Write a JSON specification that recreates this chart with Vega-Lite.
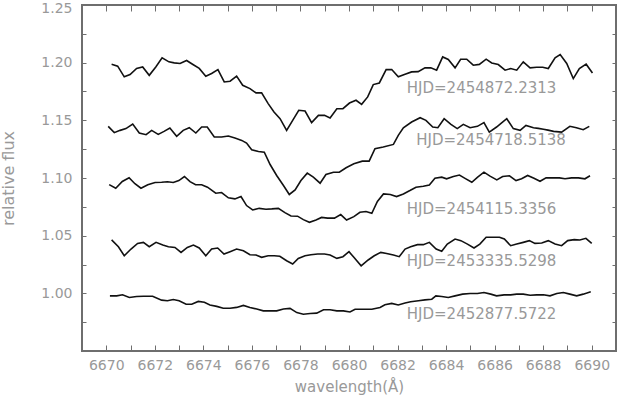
{
  "$schema": "https://vega.github.io/schema/vega-lite/v6.json",
  "width": 534,
  "height": 346,
  "autosize": {"type": "none"},
  "padding": {"left": 82, "top": 5, "right": 2, "bottom": 51},
  "background": "white",
  "config": {
    "view": {"stroke": "#6e6e6e", "strokeWidth": 2},
    "font": "DejaVu Sans"
  },
  "datasets": {
    "spec": [
      {"s":"a","w":6670.22,"f":1.1987},{"s":"a","w":6670.47,"f":1.197},{"s":"a","w":6670.74,"f":1.1877},{"s":"a","w":6670.98,"f":1.1897},{"s":"a","w":6671.25,"f":1.195},{"s":"a","w":6671.5,"f":1.1963},{"s":"a","w":6671.77,"f":1.189},{"s":"a","w":6672.04,"f":1.1963},{"s":"a","w":6672.3,"f":1.2042},{"s":"a","w":6672.58,"f":1.2007},{"s":"a","w":6672.8,"f":1.1998},{"s":"a","w":6673.04,"f":1.1993},{"s":"a","w":6673.31,"f":1.2019},{"s":"a","w":6673.57,"f":1.1984},{"s":"a","w":6673.83,"f":1.195},{"s":"a","w":6674.1,"f":1.1883},{"s":"a","w":6674.34,"f":1.1906},{"s":"a","w":6674.6,"f":1.194},{"s":"a","w":6674.86,"f":1.1833},{"s":"a","w":6675.1,"f":1.1839},{"s":"a","w":6675.37,"f":1.1883},{"s":"a","w":6675.62,"f":1.1804},{"s":"a","w":6675.92,"f":1.1775},{"s":"a","w":6676.17,"f":1.1738},{"s":"a","w":6676.4,"f":1.1738},{"s":"a","w":6676.67,"f":1.1645},{"s":"a","w":6676.91,"f":1.1572},{"s":"a","w":6677.16,"f":1.1515},{"s":"a","w":6677.43,"f":1.1413},{"s":"a","w":6677.68,"f":1.15},{"s":"a","w":6677.93,"f":1.1587},{"s":"a","w":6678.19,"f":1.1581},{"s":"a","w":6678.46,"f":1.148},{"s":"a","w":6678.74,"f":1.1543},{"s":"a","w":6678.99,"f":1.1543},{"s":"a","w":6679.22,"f":1.152},{"s":"a","w":6679.5,"f":1.1601},{"s":"a","w":6679.75,"f":1.1601},{"s":"a","w":6680.02,"f":1.165},{"s":"a","w":6680.29,"f":1.1674},{"s":"a","w":6680.52,"f":1.1639},{"s":"a","w":6680.77,"f":1.1703},{"s":"a","w":6681.0,"f":1.181},{"s":"a","w":6681.25,"f":1.1824},{"s":"a","w":6681.53,"f":1.194},{"s":"a","w":6681.76,"f":1.194},{"s":"a","w":6682.03,"f":1.1877},{"s":"a","w":6682.31,"f":1.19},{"s":"a","w":6682.58,"f":1.192},{"s":"a","w":6682.85,"f":1.1922},{"s":"a","w":6683.13,"f":1.1955},{"s":"a","w":6683.37,"f":1.1955},{"s":"a","w":6683.61,"f":1.1935},{"s":"a","w":6683.86,"f":1.205},{"s":"a","w":6684.09,"f":1.2028},{"s":"a","w":6684.37,"f":1.1955},{"s":"a","w":6684.6,"f":1.203},{"s":"a","w":6684.85,"f":1.203},{"s":"a","w":6685.12,"f":1.1978},{"s":"a","w":6685.37,"f":1.1985},{"s":"a","w":6685.65,"f":1.203},{"s":"a","w":6685.88,"f":1.1997},{"s":"a","w":6686.15,"f":1.1984},{"s":"a","w":6686.43,"f":1.1935},{"s":"a","w":6686.66,"f":1.1949},{"s":"a","w":6686.91,"f":1.1935},{"s":"a","w":6687.18,"f":1.2007},{"s":"a","w":6687.46,"f":1.1955},{"s":"a","w":6687.73,"f":1.196},{"s":"a","w":6687.98,"f":1.196},{"s":"a","w":6688.21,"f":1.1949},{"s":"a","w":6688.49,"f":1.2042},{"s":"a","w":6688.7,"f":1.207},{"s":"a","w":6688.97,"f":1.1993},{"s":"a","w":6689.24,"f":1.1862},{"s":"a","w":6689.49,"f":1.1949},{"s":"a","w":6689.77,"f":1.1987},{"s":"a","w":6690.03,"f":1.1911},

      {"s":"b","w":6670.08,"f":1.1448},{"s":"b","w":6670.33,"f":1.1393},{"s":"b","w":6670.57,"f":1.1413},{"s":"b","w":6670.81,"f":1.1428},{"s":"b","w":6671.09,"f":1.1468},{"s":"b","w":6671.36,"f":1.139},{"s":"b","w":6671.64,"f":1.1375},{"s":"b","w":6671.87,"f":1.1413},{"s":"b","w":6672.14,"f":1.1378},{"s":"b","w":6672.38,"f":1.1404},{"s":"b","w":6672.62,"f":1.1433},{"s":"b","w":6672.9,"f":1.1361},{"s":"b","w":6673.17,"f":1.1413},{"s":"b","w":6673.42,"f":1.1436},{"s":"b","w":6673.69,"f":1.139},{"s":"b","w":6673.93,"f":1.1442},{"s":"b","w":6674.16,"f":1.1442},{"s":"b","w":6674.45,"f":1.1355},{"s":"b","w":6674.75,"f":1.1355},{"s":"b","w":6675.03,"f":1.1364},{"s":"b","w":6675.3,"f":1.1346},{"s":"b","w":6675.58,"f":1.1326},{"s":"b","w":6675.78,"f":1.1303},{"s":"b","w":6675.99,"f":1.1245},{"s":"b","w":6676.27,"f":1.123},{"s":"b","w":6676.51,"f":1.1224},{"s":"b","w":6676.75,"f":1.1117},{"s":"b","w":6677.02,"f":1.1022},{"s":"b","w":6677.3,"f":1.0935},{"s":"b","w":6677.54,"f":1.0857},{"s":"b","w":6677.78,"f":1.0897},{"s":"b","w":6678.02,"f":1.0978},{"s":"b","w":6678.28,"f":1.1042},{"s":"b","w":6678.53,"f":1.1007},{"s":"b","w":6678.81,"f":1.0955},{"s":"b","w":6679.05,"f":1.103},{"s":"b","w":6679.36,"f":1.105},{"s":"b","w":6679.6,"f":1.105},{"s":"b","w":6679.88,"f":1.1089},{"s":"b","w":6680.2,"f":1.1123},{"s":"b","w":6680.55,"f":1.1146},{"s":"b","w":6680.83,"f":1.1146},{"s":"b","w":6681.07,"f":1.1254},{"s":"b","w":6681.41,"f":1.1268},{"s":"b","w":6681.83,"f":1.1291},{"s":"b","w":6682.03,"f":1.137},{"s":"b","w":6682.24,"f":1.1436},{"s":"b","w":6682.58,"f":1.1485},{"s":"b","w":6682.93,"f":1.1523},{"s":"b","w":6683.17,"f":1.15},{"s":"b","w":6683.45,"f":1.1442},{"s":"b","w":6683.66,"f":1.1436},{"s":"b","w":6683.92,"f":1.1514},{"s":"b","w":6684.2,"f":1.1465},{"s":"b","w":6684.46,"f":1.1428},{"s":"b","w":6684.71,"f":1.1465},{"s":"b","w":6684.99,"f":1.1436},{"s":"b","w":6685.29,"f":1.1448},{"s":"b","w":6685.56,"f":1.148},{"s":"b","w":6685.78,"f":1.1398},{"s":"b","w":6686.08,"f":1.1442},{"s":"b","w":6686.3,"f":1.148},{"s":"b","w":6686.5,"f":1.1514},{"s":"b","w":6686.77,"f":1.1428},{"s":"b","w":6687.05,"f":1.1413},{"s":"b","w":6687.29,"f":1.1456},{"s":"b","w":6687.6,"f":1.1436},{"s":"b","w":6687.8,"f":1.143},{"s":"b","w":6688.01,"f":1.1422},{"s":"b","w":6688.2,"f":1.1415},{"s":"b","w":6688.43,"f":1.1404},{"s":"b","w":6688.76,"f":1.1398},{"s":"b","w":6689.1,"f":1.1448},{"s":"b","w":6689.37,"f":1.1436},{"s":"b","w":6689.65,"f":1.1419},{"s":"b","w":6689.9,"f":1.1448},

      {"s":"c","w":6670.12,"f":1.0943},{"s":"c","w":6670.39,"f":1.0911},{"s":"c","w":6670.66,"f":1.097},{"s":"c","w":6670.94,"f":1.1002},{"s":"c","w":6671.18,"f":1.095},{"s":"c","w":6671.43,"f":1.0911},{"s":"c","w":6671.71,"f":1.0941},{"s":"c","w":6672.01,"f":1.0961},{"s":"c","w":6672.28,"f":1.0963},{"s":"c","w":6672.52,"f":1.0968},{"s":"c","w":6672.76,"f":1.0961},{"s":"c","w":6672.99,"f":1.0978},{"s":"c","w":6673.22,"f":1.1013},{"s":"c","w":6673.45,"f":1.0968},{"s":"c","w":6673.68,"f":1.0941},{"s":"c","w":6673.93,"f":1.0941},{"s":"c","w":6674.17,"f":1.092},{"s":"c","w":6674.51,"f":1.0868},{"s":"c","w":6674.75,"f":1.0874},{"s":"c","w":6675.03,"f":1.0828},{"s":"c","w":6675.3,"f":1.0819},{"s":"c","w":6675.55,"f":1.0839},{"s":"c","w":6675.78,"f":1.0761},{"s":"c","w":6676.03,"f":1.0723},{"s":"c","w":6676.3,"f":1.0737},{"s":"c","w":6676.58,"f":1.0729},{"s":"c","w":6676.82,"f":1.0732},{"s":"c","w":6677.09,"f":1.0737},{"s":"c","w":6677.36,"f":1.07},{"s":"c","w":6677.61,"f":1.0671},{"s":"c","w":6677.88,"f":1.0669},{"s":"c","w":6678.12,"f":1.0639},{"s":"c","w":6678.37,"f":1.0616},{"s":"c","w":6678.64,"f":1.0636},{"s":"c","w":6678.87,"f":1.0658},{"s":"c","w":6679.12,"f":1.0652},{"s":"c","w":6679.4,"f":1.0652},{"s":"c","w":6679.66,"f":1.0683},{"s":"c","w":6679.9,"f":1.0636},{"s":"c","w":6680.2,"f":1.0665},{"s":"c","w":6680.45,"f":1.0703},{"s":"c","w":6680.7,"f":1.0709},{"s":"c","w":6680.94,"f":1.0694},{"s":"c","w":6681.17,"f":1.0796},{"s":"c","w":6681.42,"f":1.0862},{"s":"c","w":6681.7,"f":1.0857},{"s":"c","w":6681.96,"f":1.0839},{"s":"c","w":6682.24,"f":1.0862},{"s":"c","w":6682.51,"f":1.0891},{"s":"c","w":6682.76,"f":1.092},{"s":"c","w":6683.06,"f":1.0928},{"s":"c","w":6683.31,"f":1.0939},{"s":"c","w":6683.54,"f":1.0998},{"s":"c","w":6683.82,"f":1.1007},{"s":"c","w":6684.02,"f":1.0993},{"s":"c","w":6684.3,"f":1.1013},{"s":"c","w":6684.55,"f":1.1026},{"s":"c","w":6684.78,"f":1.0997},{"s":"c","w":6685.06,"f":1.0963},{"s":"c","w":6685.3,"f":1.1007},{"s":"c","w":6685.56,"f":1.1051},{"s":"c","w":6685.81,"f":1.1016},{"s":"c","w":6686.09,"f":1.0984},{"s":"c","w":6686.33,"f":1.1013},{"s":"c","w":6686.61,"f":1.1019},{"s":"c","w":6686.88,"f":1.0978},{"s":"c","w":6687.11,"f":1.0993},{"s":"c","w":6687.36,"f":1.1022},{"s":"c","w":6687.62,"f":1.0997},{"s":"c","w":6687.87,"f":1.0972},{"s":"c","w":6688.12,"f":1.1001},{"s":"c","w":6688.39,"f":1.1001},{"s":"c","w":6688.67,"f":1.1001},{"s":"c","w":6688.9,"f":1.0993},{"s":"c","w":6689.17,"f":1.1001},{"s":"c","w":6689.45,"f":1.1001},{"s":"c","w":6689.72,"f":1.0993},{"s":"c","w":6689.93,"f":1.1019},

      {"s":"d","w":6670.22,"f":1.0463},{"s":"d","w":6670.5,"f":1.0404},{"s":"d","w":6670.74,"f":1.0326},{"s":"d","w":6671.02,"f":1.0384},{"s":"d","w":6671.29,"f":1.0433},{"s":"d","w":6671.53,"f":1.0442},{"s":"d","w":6671.77,"f":1.0404},{"s":"d","w":6672.05,"f":1.0442},{"s":"d","w":6672.33,"f":1.0419},{"s":"d","w":6672.56,"f":1.0404},{"s":"d","w":6672.83,"f":1.0398},{"s":"d","w":6673.08,"f":1.0355},{"s":"d","w":6673.34,"f":1.0398},{"s":"d","w":6673.59,"f":1.0419},{"s":"d","w":6673.83,"f":1.0393},{"s":"d","w":6674.1,"f":1.0326},{"s":"d","w":6674.34,"f":1.0384},{"s":"d","w":6674.59,"f":1.0393},{"s":"d","w":6674.85,"f":1.0341},{"s":"d","w":6675.1,"f":1.0361},{"s":"d","w":6675.37,"f":1.0384},{"s":"d","w":6675.65,"f":1.0369},{"s":"d","w":6675.92,"f":1.0335},{"s":"d","w":6676.17,"f":1.0332},{"s":"d","w":6676.4,"f":1.0312},{"s":"d","w":6676.67,"f":1.0326},{"s":"d","w":6676.92,"f":1.0326},{"s":"d","w":6677.15,"f":1.0321},{"s":"d","w":6677.43,"f":1.0283},{"s":"d","w":6677.68,"f":1.0254},{"s":"d","w":6677.91,"f":1.0303},{"s":"d","w":6678.19,"f":1.0326},{"s":"d","w":6678.43,"f":1.0335},{"s":"d","w":6678.71,"f":1.0341},{"s":"d","w":6678.99,"f":1.0341},{"s":"d","w":6679.22,"f":1.0332},{"s":"d","w":6679.5,"f":1.0303},{"s":"d","w":6679.75,"f":1.0318},{"s":"d","w":6680.0,"f":1.0361},{"s":"d","w":6680.2,"f":1.0312},{"s":"d","w":6680.5,"f":1.0239},{"s":"d","w":6680.79,"f":1.0289},{"s":"d","w":6681.04,"f":1.0326},{"s":"d","w":6681.31,"f":1.0355},{"s":"d","w":6681.55,"f":1.0346},{"s":"d","w":6681.83,"f":1.0332},{"s":"d","w":6682.07,"f":1.0318},{"s":"d","w":6682.31,"f":1.0384},{"s":"d","w":6682.54,"f":1.0404},{"s":"d","w":6682.82,"f":1.0422},{"s":"d","w":6683.06,"f":1.0422},{"s":"d","w":6683.31,"f":1.0442},{"s":"d","w":6683.59,"f":1.0384},{"s":"d","w":6683.82,"f":1.0364},{"s":"d","w":6684.05,"f":1.0427},{"s":"d","w":6684.37,"f":1.0471},{"s":"d","w":6684.61,"f":1.0457},{"s":"d","w":6684.88,"f":1.0427},{"s":"d","w":6685.15,"f":1.0393},{"s":"d","w":6685.39,"f":1.0427},{"s":"d","w":6685.65,"f":1.0486},{"s":"d","w":6685.92,"f":1.0486},{"s":"d","w":6686.2,"f":1.0486},{"s":"d","w":6686.4,"f":1.0471},{"s":"d","w":6686.66,"f":1.0413},{"s":"d","w":6686.91,"f":1.0427},{"s":"d","w":6687.18,"f":1.0442},{"s":"d","w":6687.43,"f":1.0457},{"s":"d","w":6687.66,"f":1.0433},{"s":"d","w":6687.94,"f":1.0436},{"s":"d","w":6688.21,"f":1.0457},{"s":"d","w":6688.49,"f":1.0427},{"s":"d","w":6688.76,"f":1.0413},{"s":"d","w":6689.01,"f":1.0457},{"s":"d","w":6689.28,"f":1.0466},{"s":"d","w":6689.51,"f":1.0463},{"s":"d","w":6689.76,"f":1.0477},{"s":"d","w":6690.0,"f":1.0433},

      {"s":"e","w":6670.15,"f":0.9978},{"s":"e","w":6670.43,"f":0.9978},{"s":"e","w":6670.67,"f":0.9987},{"s":"e","w":6670.95,"f":0.9964},{"s":"e","w":6671.25,"f":0.9972},{"s":"e","w":6671.53,"f":0.9975},{"s":"e","w":6671.91,"f":0.9975},{"s":"e","w":6672.28,"f":0.9941},{"s":"e","w":6672.52,"f":0.9936},{"s":"e","w":6672.76,"f":0.9947},{"s":"e","w":6673.0,"f":0.9936},{"s":"e","w":6673.29,"f":0.9906},{"s":"e","w":6673.52,"f":0.9906},{"s":"e","w":6673.79,"f":0.993},{"s":"e","w":6674.04,"f":0.9922},{"s":"e","w":6674.27,"f":0.9899},{"s":"e","w":6674.55,"f":0.9887},{"s":"e","w":6674.82,"f":0.9871},{"s":"e","w":6675.1,"f":0.9871},{"s":"e","w":6675.37,"f":0.9878},{"s":"e","w":6675.65,"f":0.9895},{"s":"e","w":6675.92,"f":0.9878},{"s":"e","w":6676.2,"f":0.9864},{"s":"e","w":6676.47,"f":0.9848},{"s":"e","w":6676.75,"f":0.9848},{"s":"e","w":6677.02,"f":0.9848},{"s":"e","w":6677.3,"f":0.9864},{"s":"e","w":6677.57,"f":0.9869},{"s":"e","w":6677.85,"f":0.9833},{"s":"e","w":6678.12,"f":0.9819},{"s":"e","w":6678.4,"f":0.9825},{"s":"e","w":6678.67,"f":0.9828},{"s":"e","w":6678.95,"f":0.9858},{"s":"e","w":6679.22,"f":0.9858},{"s":"e","w":6679.5,"f":0.9848},{"s":"e","w":6679.77,"f":0.9848},{"s":"e","w":6680.04,"f":0.9838},{"s":"e","w":6680.25,"f":0.9862},{"s":"e","w":6680.59,"f":0.9862},{"s":"e","w":6680.94,"f":0.9862},{"s":"e","w":6681.28,"f":0.9877},{"s":"e","w":6681.48,"f":0.9901},{"s":"e","w":6681.76,"f":0.9913},{"s":"e","w":6682.03,"f":0.9899},{"s":"e","w":6682.31,"f":0.9916},{"s":"e","w":6682.54,"f":0.9927},{"s":"e","w":6682.86,"f":0.9935},{"s":"e","w":6683.13,"f":0.9943},{"s":"e","w":6683.41,"f":0.9949},{"s":"e","w":6683.58,"f":0.9978},{"s":"e","w":6683.82,"f":0.9972},{"s":"e","w":6684.09,"f":0.9964},{"s":"e","w":6684.37,"f":0.9978},{"s":"e","w":6684.68,"f":0.9993},{"s":"e","w":6684.99,"f":0.9998},{"s":"e","w":6685.29,"f":0.9998},{"s":"e","w":6685.56,"f":1.0007},{"s":"e","w":6685.84,"f":0.9993},{"s":"e","w":6686.08,"f":0.9978},{"s":"e","w":6686.39,"f":0.9987},{"s":"e","w":6686.66,"f":0.9987},{"s":"e","w":6686.91,"f":0.9993},{"s":"e","w":6687.18,"f":0.9993},{"s":"e","w":6687.46,"f":0.9984},{"s":"e","w":6687.73,"f":0.9987},{"s":"e","w":6688.01,"f":0.9987},{"s":"e","w":6688.28,"f":0.9978},{"s":"e","w":6688.56,"f":0.9998},{"s":"e","w":6688.83,"f":1.0007},{"s":"e","w":6689.1,"f":0.9993},{"s":"e","w":6689.38,"f":0.9978},{"s":"e","w":6689.65,"f":0.9993},{"s":"e","w":6689.96,"f":1.0013}
    ],
    "labels": [
      {"w":6682.38,"f":1.1778,"t":"HJD=2454872.2313"},
      {"w":6682.77,"f":1.1332,"t":"HJD=2454718.5138"},
      {"w":6682.38,"f":1.0732,"t":"HJD=2454115.3356"},
      {"w":6682.38,"f":1.0277,"t":"HJD=2453335.5298"},
      {"w":6682.38,"f":0.9824,"t":"HJD=2452877.5722"}
    ]
  },
  "layer": [
    {
      "data": {"name": "spec"},
      "mark": {"type": "line", "color": "#111111", "strokeWidth": 1.6, "clip": true},
      "encoding": {
        "x": {
          "field": "w", "type": "quantitative",
          "scale": {"domain": [6669, 6691], "nice": false, "zero": false},
          "axis": {
            "orient": "bottom",
            "values": [6670,6671,6672,6673,6674,6675,6676,6677,6678,6679,6680,6681,6682,6683,6684,6685,6686,6687,6688,6689,6690],
            "format": "d",
            "labelExpr": "datum.value % 2 === 0 ? datum.label : ''",
            "domain": false, "grid": false,
            "tickSize": -6, "tickColor": "#6e6e6e", "tickWidth": 1,
            "labelPadding": 13, "labelFontSize": 14, "labelColor": "#999999", "labelFont": "DejaVu Sans",
            "title": "wavelength(Å)", "titleFontSize": 15, "titleFontWeight": "normal", "titleColor": "#999999", "titleFont": "DejaVu Sans", "titlePadding": 7
          }
        },
        "y": {
          "field": "f", "type": "quantitative",
          "scale": {"domain": [0.95, 1.25], "nice": false, "zero": false},
          "axis": {
            "orient": "left",
            "values": [0.95,0.975,1.0,1.025,1.05,1.075,1.1,1.125,1.15,1.175,1.2,1.225,1.25],
            "labelExpr": "(abs(datum.value*20 - round(datum.value*20)) < 0.001 && datum.value > 0.97) ? format(datum.value, '.2f') : ''",
            "labelOffset": {"condition": {"test": "datum.value > 1.24", "value": 3}, "value": 0},
            "domain": false, "grid": false,
            "tickSize": -4, "tickColor": "#6e6e6e", "tickWidth": 1,
            "labelPadding": 14, "labelFontSize": 14, "labelColor": "#999999", "labelFont": "DejaVu Sans",
            "title": "relative flux", "titleFontSize": 16, "titleFontWeight": "normal", "titleColor": "#999999", "titleFont": "DejaVu Sans", "titlePadding": 24
          }
        },
        "detail": {"field": "s", "type": "nominal"}
      }
    },
    {
      "data": {"name": "labels"},
      "mark": {"type": "text", "align": "left", "baseline": "middle", "fontSize": 15, "font": "DejaVu Sans", "color": "#999999"},
      "encoding": {
        "x": {
          "field": "w", "type": "quantitative",
          "scale": {"domain": [6669, 6691], "nice": false, "zero": false},
          "axis": {
            "orient": "top",
            "values": [6670,6671,6672,6673,6674,6675,6676,6677,6678,6679,6680,6681,6682,6683,6684,6685,6686,6687,6688,6689,6690],
            "labels": false, "domain": false, "grid": false, "title": null,
            "tickSize": -6, "tickColor": "#6e6e6e", "tickWidth": 1
          }
        },
        "y": {
          "field": "f", "type": "quantitative",
          "scale": {"domain": [0.95, 1.25], "nice": false, "zero": false},
          "axis": {
            "orient": "right",
            "values": [0.95,0.975,1.0,1.025,1.05,1.075,1.1,1.125,1.15,1.175,1.2,1.225,1.25],
            "labels": false, "domain": false, "grid": false, "title": null,
            "tickSize": -4, "tickColor": "#6e6e6e", "tickWidth": 1
          }
        },
        "text": {"field": "t", "type": "nominal"}
      }
    }
  ],
  "resolve": {"axis": {"x": "independent", "y": "independent"}}
}
